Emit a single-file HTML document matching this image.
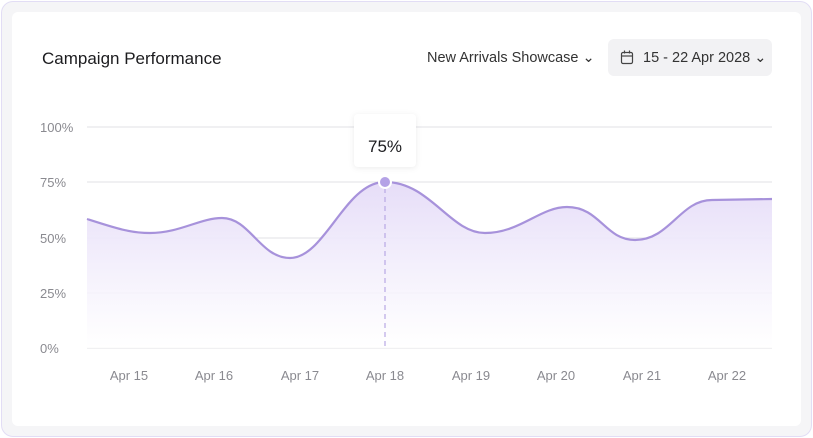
<!DOCTYPE html><html><head><style>
body{margin:0;width:813px;height:438px;background:#fff;font-family:"Liberation Sans",sans-serif;overflow:hidden}
.outer{position:absolute;left:1px;top:1px;width:809px;height:434px;border:1px solid #e2ddf5;border-radius:12px;background:#f5f5f7}
.card{position:absolute;left:12px;top:12px;width:789px;height:414px;background:#fff;border-radius:6px}
.t{position:absolute;font-size:17px;color:#1c1c1f}
</style></head><body>
<div class="outer"></div><div class="card"></div>
<div class="t" style="left:42px;top:49px;">Campaign Performance</div>
<div class="t" style="left:427px;top:50px;font-size:14.5px;color:#333">New Arrivals Showcase ⌄</div>
<div style="position:absolute;left:608px;top:39px;width:164px;height:37px;background:#f2f2f4;border-radius:6px"></div>
<svg style="position:absolute;left:620px;top:50px" width="14" height="15"><rect x="1.5" y="2.5" width="11" height="11" rx="1.5" fill="none" stroke="#444" stroke-width="1.2"/><line x1="1.5" y1="6" x2="12.5" y2="6" stroke="#444" stroke-width="1.2"/><line x1="4.5" y1="0.5" x2="4.5" y2="3.5" stroke="#444" stroke-width="1.2"/><line x1="9.5" y1="0.5" x2="9.5" y2="3.5" stroke="#444" stroke-width="1.2"/></svg>
<div class="t" style="left:643px;top:50px;font-size:14.5px;color:#333">15 - 22 Apr 2028 ⌄</div>
<svg style="position:absolute;left:0;top:0" width="813" height="438">
<defs><linearGradient id="g" x1="0" y1="0" x2="0" y2="1"><stop offset="0" stop-color="#e6ddf8"/><stop offset="1" stop-color="#fff" stop-opacity="0.8"/></linearGradient></defs>
<g stroke="#e6e6ea" stroke-width="1.3">
<line x1="87" y1="127" x2="772" y2="127"/><line x1="87" y1="182" x2="772" y2="182"/><line x1="87" y1="238" x2="772" y2="238"/><line x1="87" y1="293" x2="772" y2="293"/><line x1="87" y1="348" x2="772" y2="348"/></g>
<path d="M87,219 C115,228 130,233 150,233 C180,233 200,218 222,218 C250,218 260,258 290,258 C325,258 345,182 385,182 C430,182 450,233 485,233 C520,233 540,207 567,207 C600,207 605,240 635,240 C670,240 680,200 712,200 L772,199 L772,348 L87,348 Z" fill="url(#g)"/>
<path d="M87,219 C115,228 130,233 150,233 C180,233 200,218 222,218 C250,218 260,258 290,258 C325,258 345,182 385,182 C430,182 450,233 485,233 C520,233 540,207 567,207 C600,207 605,240 635,240 C670,240 680,200 712,200 L772,199" fill="none" stroke="#a792db" stroke-width="2.2"/>
<line x1="385" y1="188" x2="385" y2="348" stroke="#b8a8e4" stroke-width="1.2" stroke-dasharray="5,4"/>
<circle cx="385" cy="182" r="6" fill="#b4a2e6" stroke="#fff" stroke-width="2"/>
<rect x="354" y="114" width="62" height="53" rx="4" fill="#fff" style="filter:drop-shadow(0 1px 3px rgba(0,0,0,0.08))"/>
<text x="385" y="152" text-anchor="middle" font-size="17" fill="#1c1c1f">75%</text>
<g font-size="13" fill="#8a8a90"><text x="40" y="132">100%</text><text x="40" y="187">75%</text><text x="40" y="243">50%</text><text x="40" y="298">25%</text><text x="40" y="353">0%</text></g>
<g font-size="13" fill="#8a8a90" text-anchor="middle"><text x="129" y="380">Apr 15</text><text x="214" y="380">Apr 16</text><text x="300" y="380">Apr 17</text><text x="385" y="380">Apr 18</text><text x="471" y="380">Apr 19</text><text x="556" y="380">Apr 20</text><text x="642" y="380">Apr 21</text><text x="727" y="380">Apr 22</text></g>
</svg>
</body></html>
